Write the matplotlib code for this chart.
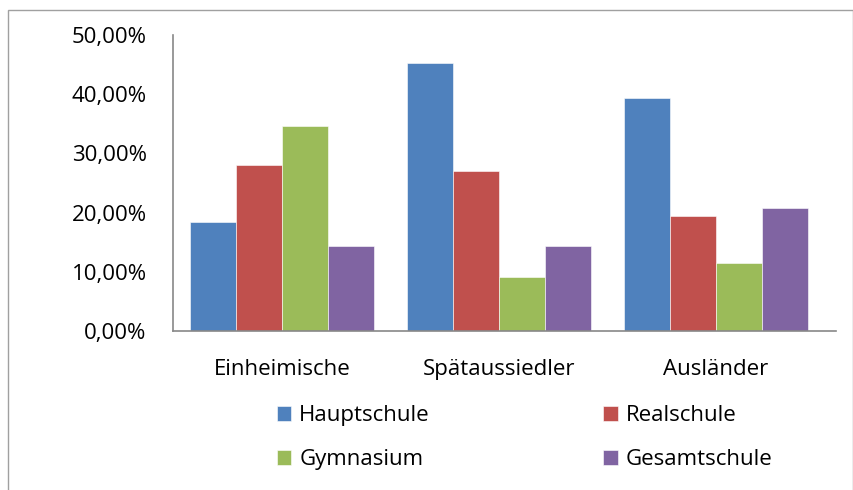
import matplotlib.pyplot as plt
from matplotlib.patches import Rectangle
from matplotlib.ticker import FuncFormatter
import numpy as np

plt.rcParams['font.family'] = ['Open Sans', 'DejaVu Sans']

groups = ["Einheimische", "Spätaussiedler", "Ausländer"]
schools = ["Hauptschule", "Realschule", "Gymnasium", "Gesamtschule"]
colours = ["#4f81bd", "#c0504d", "#9bbb59", "#8064a2"]

hauptschule = [18.4, 45.3, 39.4]
realschule = [28.0, 27.0, 19.4]
gymnasium = [34.6, 9.1, 11.5]
gesamtschule = [14.4, 14.4, 20.8]
values = [hauptschule, realschule, gymnasium, gesamtschule]

fig = plt.figure(figsize=(8.54, 4.9), dpi=100)
fig.patches.append(Rectangle((0.009, -0.01), 0.99, 0.99, transform=fig.transFigure,
                             fill=False, edgecolor="#a0a0a0", linewidth=1.0))
ax = fig.add_axes([0.2026, 0.3245, 0.7764, 0.6041])

x = np.arange(len(groups))
w = 0.212
bars = []
for i, (name, vals) in enumerate(zip(schools, values)):
    b = ax.bar(x + (i - 1.5) * w, vals, w, color=colours[i], label=name,
               edgecolor="white", linewidth=0.4)
    bars.append(b)

ax.set_xlim(-0.502, 2.553)
ax.set_ylim(0, 50)
ax.set_yticks(np.arange(0, 51, 10))
ax.yaxis.set_major_formatter(FuncFormatter(lambda v, p: f"{v:.2f}%".replace(".", ",")))
ax.set_xticks(x)
ax.set_xticklabels(groups)
ax.tick_params(axis="both", labelsize=16, length=0, colors="black")
ax.tick_params(axis="x", pad=20)
ax.tick_params(axis="y", pad=19)
for s in ["top", "right"]:
    ax.spines[s].set_visible(False)
for s in ["left", "bottom"]:
    ax.spines[s].set_color("#888888")
    ax.spines[s].set_linewidth(1.2)

# legend fills column-wise, so order handles to read row-wise
order = [0, 2, 1, 3]
fig.legend([bars[i] for i in order], [schools[i] for i in order],
           loc="upper left", bbox_to_anchor=(0.301, 0.214), ncol=2, frameon=False,
           fontsize=16, handlelength=0.65, handleheight=0.65, handletextpad=0.35,
           columnspacing=7.8, labelspacing=1.05)

plt.savefig("out.png", dpi=100)
